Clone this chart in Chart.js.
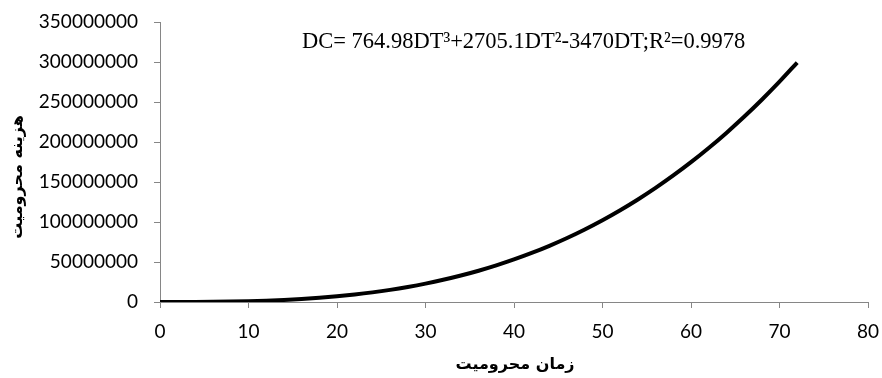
<!DOCTYPE html>
<html>
<head>
<meta charset="utf-8">
<script src="https://cdn.jsdelivr.net/npm/chart.js@4.4.1/dist/chart.umd.min.js"></script>
<style>
html,body{margin:0;padding:0;background:#fff;}
#wrap{width:882px;height:378px;position:relative;}
</style>
</head>
<body>
<div id="wrap"><canvas id="c" width="882" height="378"></canvas></div>
<script>
// Downtime (DT) values along x axis
const downtime = [0,2,4,6,8,10,12,14,16,18,20,22,24,26,28,30,32,34,36,38,40,42,44,46,48,50,52,54,56,58,60,62,64,66,68,70,72];
// Downtime cost (DC)
const downtimeCost = [0,10000,78000,242000,537000,1000000,1670000,2580000,3770000,5280000,7130000,9380000,12050000,15180000,18820000,22980000,27730000,33080000,39070000,45750000,53150000,61300000,70250000,80020000,90670000,102210000,114700000,128160000,142630000,158160000,174770000,192500000,211390000,231480000,252810000,275400000,299300000];
const xTicks = [0,10,20,30,40,50,60,70,80];
const yTicks = [0,50000000,100000000,150000000,200000000,250000000,300000000,350000000];
const xTitle = 'زمان محرومیت';
const yTitle = 'هزینه محرومیت';
const equation = 'DC= 764.98DT³+2705.1DT²-3470DT;R²=0.9978';

const points = downtime.map((d,i)=>({x:d,y:downtimeCost[i]}));

const textPlugin = {
  id:'texts',
  afterDraw(chart){
    const ctx = chart.ctx, a = chart.chartArea;
    ctx.save();
    ctx.fillStyle = '#000';
    ctx.font = '22.5px "Liberation Serif"';
    ctx.textAlign = 'left';
    ctx.textBaseline = 'alphabetic';
    ctx.fillText(equation, 302, 48);
    ctx.font = 'bold 16px "DejaVu Sans"';
    ctx.textAlign = 'center';
    ctx.textBaseline = 'middle';
    ctx.fillText(xTitle, (a.left+a.right)/2 + 1, 365);
    ctx.translate(18, 177);
    ctx.rotate(-Math.PI/2);
    ctx.fillText(yTitle, 0, 0);
    ctx.restore();
  }
};

new Chart(document.getElementById('c'), {
  type:'line',
  data:{datasets:[{data:points,borderColor:'#000',borderWidth:4,pointRadius:0,fill:false,cubicInterpolationMode:'monotone'}]},
  options:{
    responsive:false,
    animation:false,
    layout:{padding:{left:30,right:14,top:22,bottom:0}},
    plugins:{legend:{display:false},tooltip:{enabled:false}},
    scales:{
      x:{type:'linear',min:0,max:80,
        afterBuildTicks:(s)=>{s.ticks = xTicks.map(v=>({value:v}));},
        afterFit:(s)=>{s.height = 76; s.paddingLeft = 0; s.paddingRight = 0;},
        grid:{drawOnChartArea:false,drawTicks:true,tickLength:6,color:'#868686'},
        border:{color:'#868686',width:1},
        ticks:{color:'#000',font:{family:'Lato',size:19},padding:12,maxRotation:0,callback:(v)=>String(v)}},
      y:{type:'linear',min:0,max:350000000,
        afterBuildTicks:(s)=>{s.ticks = yTicks.map(v=>({value:v}));},
        afterFit:(s)=>{s.width = 130; s.paddingTop = 0; s.paddingBottom = 0;},
        grid:{drawOnChartArea:false,drawTicks:true,tickLength:6,color:'#868686'},
        border:{color:'#868686',width:1},
        ticks:{color:'#000',font:{family:'Lato',size:19},padding:16,callback:(v)=>String(v)}}
    }
  },
  plugins:[textPlugin]
});
</script>
</body>
</html>
